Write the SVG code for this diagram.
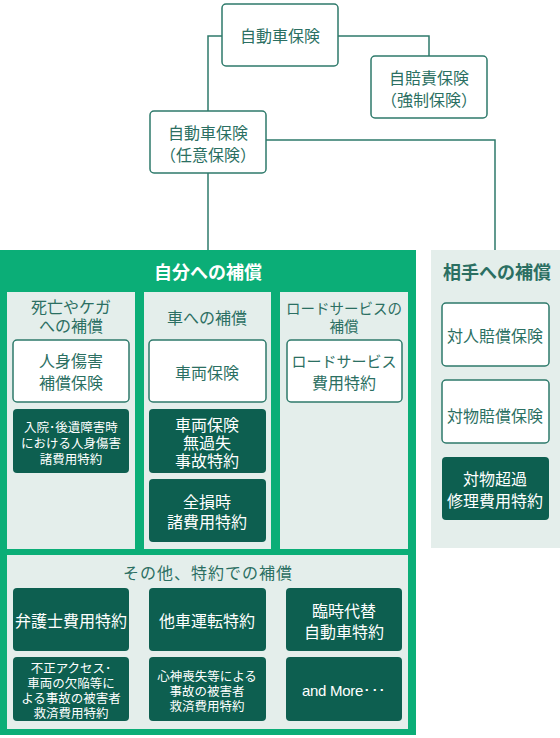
<svg xmlns="http://www.w3.org/2000/svg" width="560" height="738" viewBox="0 0 560 738">
<style>
text{font-family:"Noto Sans CJK JP","Noto Sans",sans-serif;text-anchor:middle;dominant-baseline:central}
.wb{fill:#fff;stroke:#2e7a6b;stroke-width:1.5}
.db{fill:#0d5f50}
.pn{fill:#e4eeeb}
.t{fill:#2b6f62;font-size:16px}
.tw{fill:#fff;font-size:16px}
.ts{fill:#fff;font-size:12.5px}
.h{font-size:18px;font-weight:bold}
.c{fill:none;stroke:#2e7a6b;stroke-width:1.5}
.m{fill:#fff;font-size:15px;font-family:"Liberation Sans Narrow","Liberation Sans",sans-serif;letter-spacing:-0.3px}
</style>
<g id="connectors">
<path class="c" d="M222 36H208V111"/>
<path class="c" d="M338 36H429V56"/>
<path class="c" d="M208 173V250"/>
<path class="c" d="M266 140H495V250"/>
</g>
<g id="top">
<rect class="wb" x="222" y="4" width="116" height="62" rx="4"/>
<text class="t" x="280" y="35">自動車保険</text>
</g>
<g id="jibaiseki">
<rect class="wb" x="371" y="56" width="116" height="62" rx="4"/>
<text class="t" x="429" y="77">自賠責保険<tspan x="429" dy="22">（強制保険）</tspan></text>
</g>
<g id="nini">
<rect class="wb" x="150" y="111" width="116" height="62" rx="4"/>
<text class="t" x="208" y="132">自動車保険<tspan x="208" dy="22">（任意保険）</tspan></text>
</g>
<g id="jibun">
<rect x="0" y="250" width="416" height="485" fill="#0bae77"/>
<text class="h" x="208" y="271" fill="#fff">自分への補償</text>
</g>
<g id="panel-shibo">
<rect class="pn" x="7" y="292" width="128" height="257"/>
<text class="t" x="71" y="306">死亡やケガ<tspan x="71" dy="19">への補償</tspan></text>
</g>
<g id="jinshin">
<rect class="wb" x="13" y="340" width="116" height="62" rx="4"/>
<text class="t" x="71" y="360">人身傷害<tspan x="71" dy="22">補償保険</tspan></text>
</g>
<g id="nyuin">
<rect class="db" x="13" y="409" width="116" height="64" rx="4"/>
<text class="ts" x="71" y="426">入院･後遺障害時<tspan x="71" dy="16">における人身傷害</tspan><tspan x="71" dy="16">諸費用特約</tspan></text>
</g>
<g id="panel-kuruma">
<rect class="pn" x="144" y="292" width="127" height="257"/>
<text class="t" x="207" y="317">車への補償</text>
</g>
<g id="sharyo">
<rect class="wb" x="149" y="340" width="117" height="62" rx="4"/>
<text class="t" x="207" y="372">車両保険</text>
</g>
<g id="mukashitsu">
<rect class="db" x="149" y="409" width="117" height="64" rx="4"/>
<text class="tw" x="207" y="424">車両保険<tspan x="207" dy="18">無過失</tspan><tspan x="207" dy="18">事故特約</tspan></text>
</g>
<g id="zenson">
<rect class="db" x="149" y="479" width="117" height="63" rx="4"/>
<text class="tw" x="207" y="501">全損時<tspan x="207" dy="20">諸費用特約</tspan></text>
</g>
<g id="panel-road">
<rect class="pn" x="280" y="292" width="128" height="257"/>
<text class="t" x="344" y="307" style="font-size:14.5px">ロードサービスの<tspan x="344" dy="18">補償</tspan></text>
</g>
<g id="road">
<rect class="wb" x="287" y="340" width="115" height="62" rx="4"/>
<text class="t" x="344" y="360" style="font-size:15px">ロードサービス<tspan x="344" dy="22" style="font-size:16px">費用特約</tspan></text>
</g>
<g id="panel-other">
<rect class="pn" x="7" y="555" width="401" height="174"/>
<text class="t" x="208" y="572" letter-spacing="1">その他、特約での補償</text>
</g>
<g id="bengoshi">
<rect class="db" x="13" y="588" width="116" height="63" rx="4"/>
<text class="tw" x="71" y="620">弁護士費用特約</text>
</g>
<g id="tasha">
<rect class="db" x="149" y="588" width="117" height="63" rx="4"/>
<text class="tw" x="207" y="620">他車運転特約</text>
</g>
<g id="rinji">
<rect class="db" x="286" y="588" width="116" height="63" rx="4"/>
<text class="tw" x="344" y="610">臨時代替<tspan x="344" dy="21">自動車特約</tspan></text>
</g>
<g id="fusei">
<rect class="db" x="13" y="657" width="116" height="64" rx="4"/>
<text class="ts" x="71" y="667">不正アクセス･<tspan x="71" dy="15">車両の欠陥等に</tspan><tspan x="71" dy="15">よる事故の被害者</tspan><tspan x="71" dy="15">救済費用特約</tspan></text>
</g>
<g id="shinshin">
<rect class="db" x="149" y="657" width="117" height="64" rx="4"/>
<text class="ts" x="207" y="675">心神喪失等による<tspan x="207" dy="15">事故の被害者</tspan><tspan x="207" dy="15">救済費用特約</tspan></text>
</g>
<g id="more">
<rect class="db" x="286" y="657" width="116" height="64" rx="4"/>
<text class="m" x="344" y="690">and More･･･</text>
</g>
<g id="aite">
<rect class="pn" x="431" y="250" width="129" height="298"/>
<text class="h" x="497" y="271" fill="#2b6f62">相手への補償</text>
</g>
<g id="taijin">
<rect class="wb" x="442" y="303" width="107" height="63" rx="4"/>
<text class="t" x="495" y="335">対人賠償保険</text>
</g>
<g id="taibutsu">
<rect class="wb" x="442" y="380" width="107" height="63" rx="4"/>
<text class="t" x="495" y="415">対物賠償保険</text>
</g>
<g id="choka">
<rect class="db" x="442" y="457" width="107" height="63" rx="4"/>
<text class="tw" x="495" y="478">対物超過<tspan x="495" dy="22">修理費用特約</tspan></text>
</g>
</svg>
